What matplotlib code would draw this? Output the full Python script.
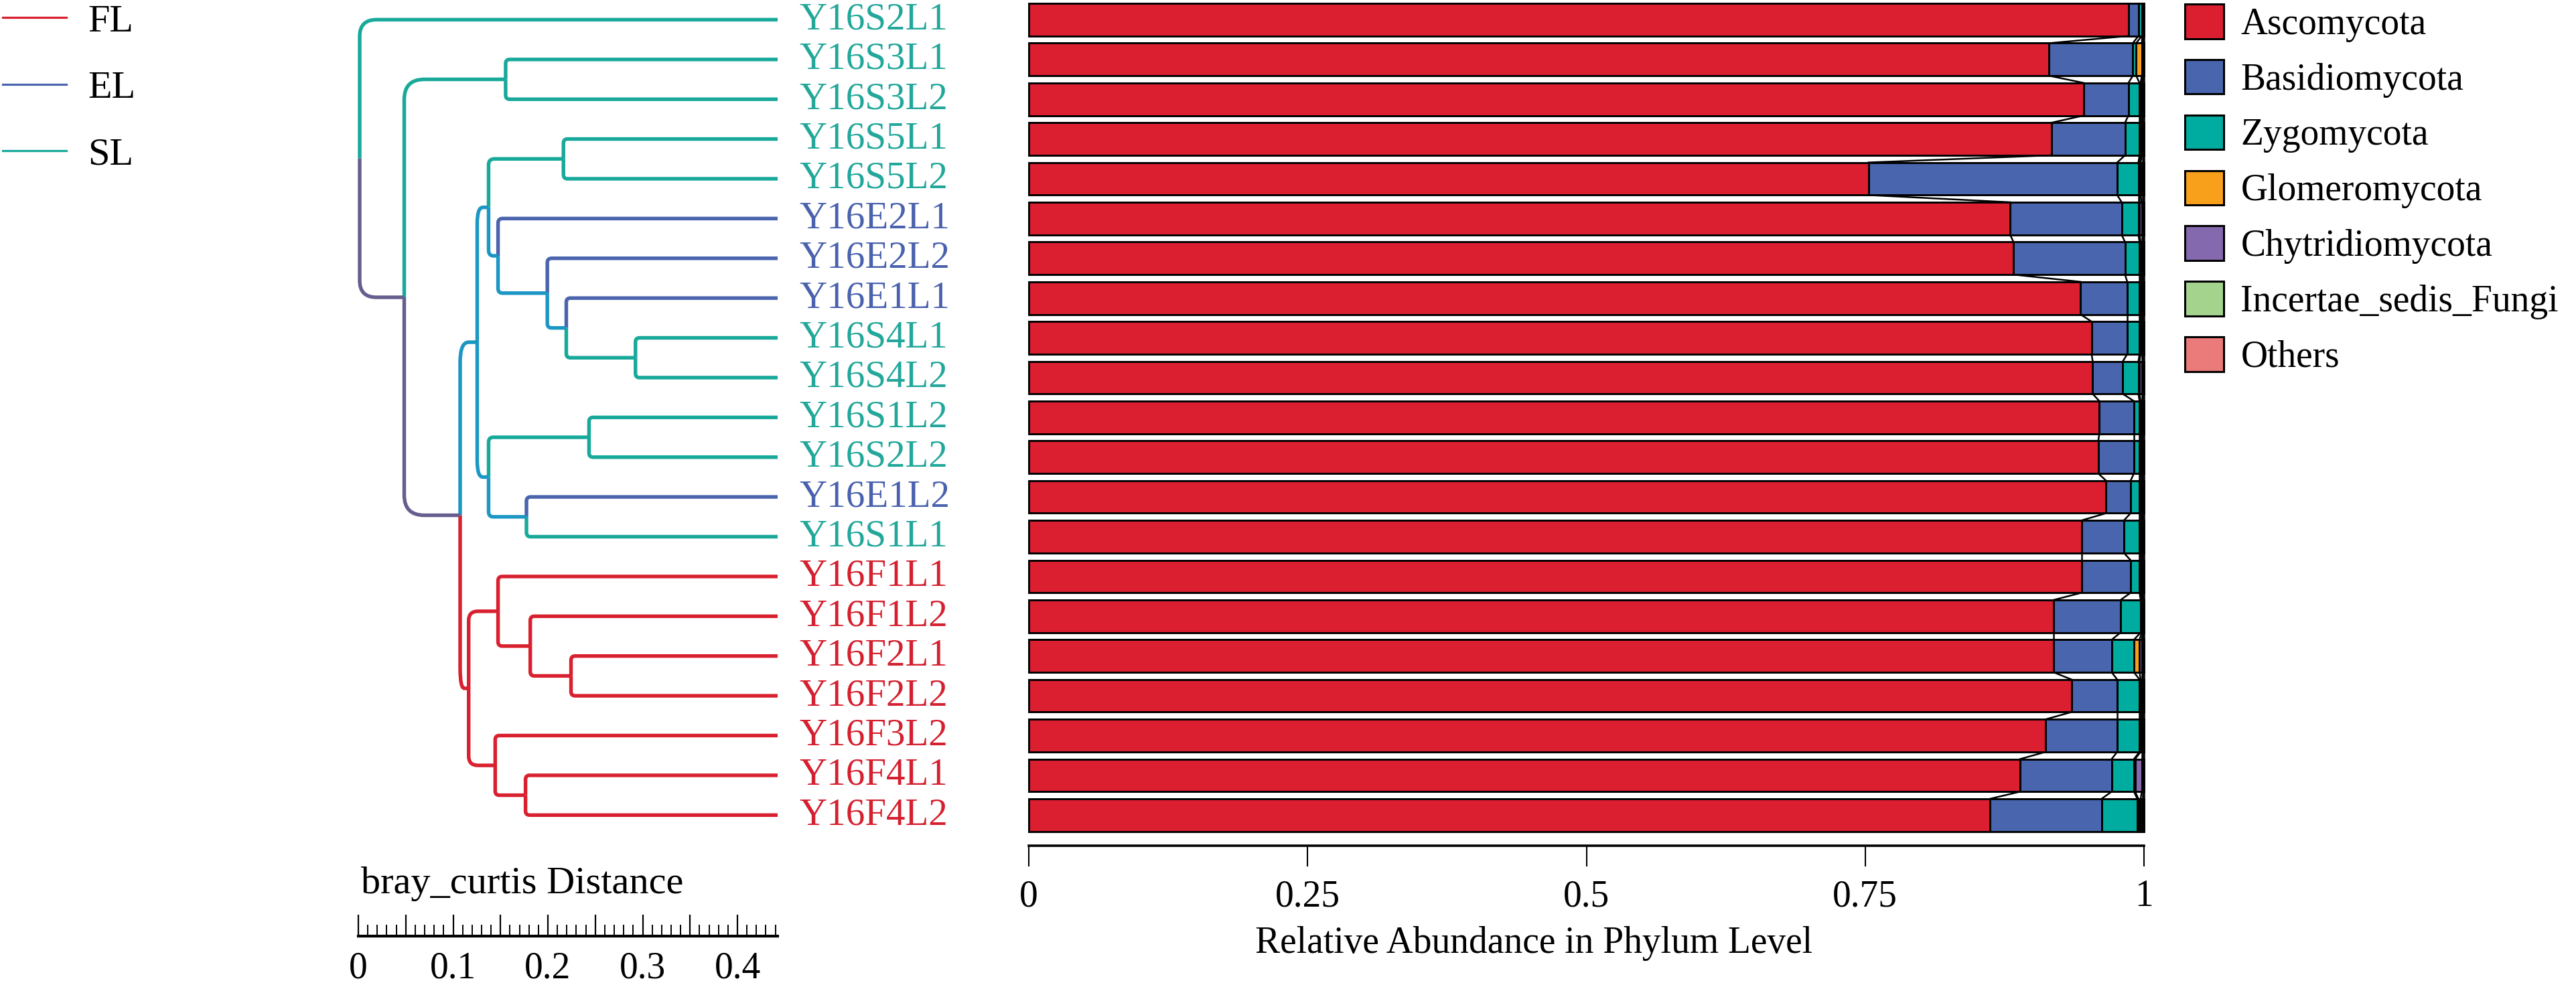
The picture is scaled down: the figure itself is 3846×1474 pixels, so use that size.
#!/usr/bin/env python3
"""Bray-Curtis dendrogram next to phylum-level stacked bars"""
import numpy as np
import matplotlib
matplotlib.use('Agg')
import matplotlib.pyplot as plt
from matplotlib.path import Path
from matplotlib.patches import PathPatch, Patch
from matplotlib.lines import Line2D
from matplotlib.ticker import FixedLocator, FuncFormatter

plt.rcParams['font.family'] = ['Liberation Serif', 'DejaVu Serif']

# samples, top to bottom
samples = ['Y16S2L1', 'Y16S3L1', 'Y16S3L2', 'Y16S5L1', 'Y16S5L2', 'Y16E2L1',
           'Y16E2L2', 'Y16E1L1', 'Y16S4L1', 'Y16S4L2', 'Y16S1L2', 'Y16S2L2',
           'Y16E1L2', 'Y16S1L1', 'Y16F1L1', 'Y16F1L2', 'Y16F2L1', 'Y16F2L2',
           'Y16F3L2', 'Y16F4L1', 'Y16F4L2']
groups = ['FL', 'EL', 'SL']

phyla = ['Ascomycota', 'Basidiomycota', 'Zygomycota', 'Glomeromycota',
         'Chytridiomycota', 'Incertae_sedis_Fungi', 'Others']
ascomycota = [0.986, 0.915, 0.946, 0.917, 0.753, 0.880, 0.883, 0.943, 0.953, 0.954, 0.960,
              0.959, 0.966, 0.944, 0.944, 0.919, 0.919, 0.935, 0.912, 0.889, 0.862]
basidiomycota = [0.009, 0.075, 0.040, 0.066, 0.223, 0.100, 0.100, 0.042, 0.032, 0.027, 0.031,
                 0.032, 0.022, 0.038, 0.044, 0.060, 0.052, 0.041, 0.064, 0.082, 0.100]
zygomycota = [0.003, 0.003, 0.010, 0.013, 0.019, 0.015, 0.013, 0.011, 0.011, 0.014, 0.005,
              0.005, 0.008, 0.014, 0.008, 0.018, 0.020, 0.020, 0.020, 0.020, 0.032]
glomeromycota = [0.0005, 0.005, 0.001, 0.001, 0.001, 0.001, 0.001, 0.001, 0.001, 0.001, 0.001,
                 0.001, 0.001, 0.001, 0.001, 0.001, 0.005, 0.001, 0.001, 0.001, 0.001]
chytridiomycota = [0.0005, 0.001, 0.001, 0.001, 0.001, 0.002, 0.001, 0.001, 0.001, 0.002, 0.001,
                   0.001, 0.001, 0.001, 0.001, 0.001, 0.002, 0.001, 0.001, 0.006, 0.002]
incertae_sedis = [0.0005, 0.0005, 0.001, 0.001, 0.002, 0.001, 0.001, 0.001, 0.001, 0.001, 0.001,
                  0.001, 0.001, 0.001, 0.001, 0.0005, 0.001, 0.001, 0.001, 0.001, 0.002]
others = [0.0005, 0.0005, 0.001, 0.001, 0.001, 0.001, 0.001, 0.001, 0.001, 0.001, 0.001,
          0.001, 0.001, 0.001, 0.001, 0.0005, 0.001, 0.001, 0.001, 0.001, 0.001]

# clustering: (node, upper child, lower child, bray_curtis height)
merges = [
    ('P', 'Y16S4L1', 'Y16S4L2', 0.150),
    ('Q', 'Y16E1L1', 'P', 0.223),
    ('R', 'Y16E2L2', 'Q', 0.243),
    ('S', 'Y16E2L1', 'R', 0.295),
    ('S5', 'Y16S5L1', 'Y16S5L2', 0.226),
    ('T', 'S5', 'S', 0.305),
    ('H', 'Y16S1L2', 'Y16S2L2', 0.199),
    ('I', 'Y16E1L2', 'Y16S1L1', 0.265),
    ('G', 'H', 'I', 0.305),
    ('D', 'T', 'G', 0.317),
    ('L', 'Y16F2L1', 'Y16F2L2', 0.218),
    ('K', 'Y16F1L2', 'L', 0.261),
    ('J', 'Y16F1L1', 'K', 0.295),
    ('O', 'Y16F4L1', 'Y16F4L2', 0.266),
    ('M', 'Y16F3L2', 'O', 0.298),
    ('E', 'J', 'M', 0.326),
    ('C', 'D', 'E', 0.335),
    ('B', 'Y16S3L1', 'Y16S3L2', 0.287),
    ('A', 'B', 'C', 0.394),
    ('root', 'Y16S2L1', 'A', 0.441),
]

phylum_colors = ['#DB1F31', '#4865AE', '#00AC9F', '#F8A01C', '#8569AE', '#A4D38E', '#EB7B7B']
group_colors = {'FL': '#D9202F', 'EL': '#4A64AE', 'SL': '#18A99B'}
text_colors = {'FL': '#D4202F', 'EL': '#4A62AD', 'SL': '#22A79A'}


def group_of(sample):
    return {'S': 'SL', 'E': 'EL', 'F': 'FL'}[sample[3]]


W, H = 3846, 1474
fig = plt.figure(figsize=(W / 100, H / 100), dpi=100)
ylims = (20.77, -0.495)

# ---- stacked bars ----
ax = fig.add_axes([1536 / W, 1 - 1263 / H, 1665 / W, 1263 / H])
data = np.array([ascomycota, basidiomycota, zygomycota, glomeromycota,
                 chytridiomycota, incertae_sedis, others]).T
cum = np.cumsum(data, axis=1)
y = np.arange(len(samples))
bh = 0.82
for k, name in enumerate(phyla):
    ax.barh(y, data[:, k], left=cum[:, k] - data[:, k], height=bh,
            color=phylum_colors[k], edgecolor='black', linewidth=2.1, clip_on=False)
# links between neighbouring bars
for k in range(len(phyla)):
    for i in range(len(samples) - 1):
        ax.plot([cum[i, k], cum[i + 1, k]], [i + bh / 2, i + 1 - bh / 2],
                color='black', lw=1.8, clip_on=False)

ax.set_xlim(0, 1)
ax.set_ylim(*ylims)
ax.set_yticks([])
for side in ['left', 'top', 'right']:
    ax.spines[side].set_visible(False)
ax.spines['bottom'].set_linewidth(2.6)
ax.set_xticks([0, 0.25, 0.5, 0.75, 1])
ax.set_xticklabels(['0', '0.25', '0.5', '0.75', '1'])
ax.tick_params(axis='x', direction='out', length=22, width=1.5, pad=14, labelsize=40)
ax.set_xlabel('Relative Abundance in Phylum Level', fontsize=40)
ax.xaxis.set_label_coords(0.453, -0.095)

# ---- dendrogram ----
axd = fig.add_axes([537 / W, 1 - 1263 / H, 624 / W, 1263 / H])
root_h = merges[-1][3]
axd.set_xlim(root_h, 0)
axd.set_ylim(*ylims)
axd.axis('off')
px_x = 624 / root_h
px_y = 1263 / (ylims[0] - ylims[1])

row = {s: float(i) for i, s in enumerate(samples)}
height = {s: 0.0 for s in samples}
members = {s: {s} for s in samples}
for name, a, b, h in merges:
    row[name] = (row[a] + row[b]) / 2
    height[name] = h
    members[name] = members[a] | members[b]


def branch_color(node):
    g = {group_of(s) for s in members[node]}
    if len(g) == 1:
        return group_colors[g.pop()]
    if 'FL' in g:
        return '#655E8E'
    return '#1C97C4'


for name, a, b, h in merges:
    yn = row[name]
    for c in (a, b):
        hc, yc = height[c], row[c]
        r = min(max(0.12 * abs(yn - yc) * px_y, 6), 30)
        rx = min(r / px_x, (h - hc) / 2)
        ry = min(r / px_y, abs(yn - yc) / 2)
        sgn = 1 if yn > yc else -1
        verts = [(hc, yc), (h - rx, yc), (h, yc), (h, yc + sgn * ry), (h, yn)]
        codes = [Path.MOVETO, Path.LINETO, Path.CURVE3, Path.CURVE3, Path.LINETO]
        axd.add_patch(PathPatch(Path(verts, codes), fill=False, edgecolor=branch_color(c),
                                lw=3.9, capstyle='butt', joinstyle='round', clip_on=False))

for s in samples:
    axd.text(-0.023, row[s], s, color=text_colors[group_of(s)], fontsize=41,
             ha='left', va='center', clip_on=False)

# ---- distance scale bar ----
axr = fig.add_axes([535 / W, 1 - 1398 / H, 626 / W, 0.03])
axr.set_xlim(0, 0.4424)
for side in ['left', 'top', 'right']:
    axr.spines[side].set_visible(False)
axr.spines['bottom'].set_linewidth(3)
axr.set_yticks([])
axr.xaxis.set_major_locator(FixedLocator(np.arange(0, 0.44, 0.05)))
axr.xaxis.set_minor_locator(FixedLocator(np.arange(0, 0.445, 0.01)))
axr.xaxis.set_major_formatter(FuncFormatter(
    lambda v, p: ('0' if v < 1e-9 else '%.1f' % v) if round(v * 100) % 10 == 0 else ''))
axr.tick_params(axis='x', which='major', direction='in', length=23, width=1.6,
                pad=16, labelsize=40)
axr.tick_params(axis='x', which='minor', direction='in', length=12, width=1.4)
fig.text(539 / W, 1 - 1320 / H, 'bray_curtis Distance', fontsize=42, va='center', ha='left')

# ---- legends ----
handles = [Patch(facecolor=c, edgecolor='black', linewidth=2.2) for c in phylum_colors]
fig.legend(handles, phyla, loc='upper left', bbox_to_anchor=(3262 / W, 1 - 6 / H),
           frameon=False, fontsize=40, handlelength=1.05, handleheight=1.05,
           handletextpad=0.45, labelspacing=0.47, borderpad=0, borderaxespad=0)

ghandles = [Line2D([], [], color=group_colors[g], lw=2.3) for g in groups]
fig.legend(ghandles, groups, loc='upper left', bbox_to_anchor=(4 / W, 1 - 6 / H),
           frameon=False, fontsize=42, handlelength=1.63, handletextpad=0.55,
           labelspacing=0.8, borderpad=0, borderaxespad=0)

fig.savefig('out.png', dpi=100, facecolor='white')
